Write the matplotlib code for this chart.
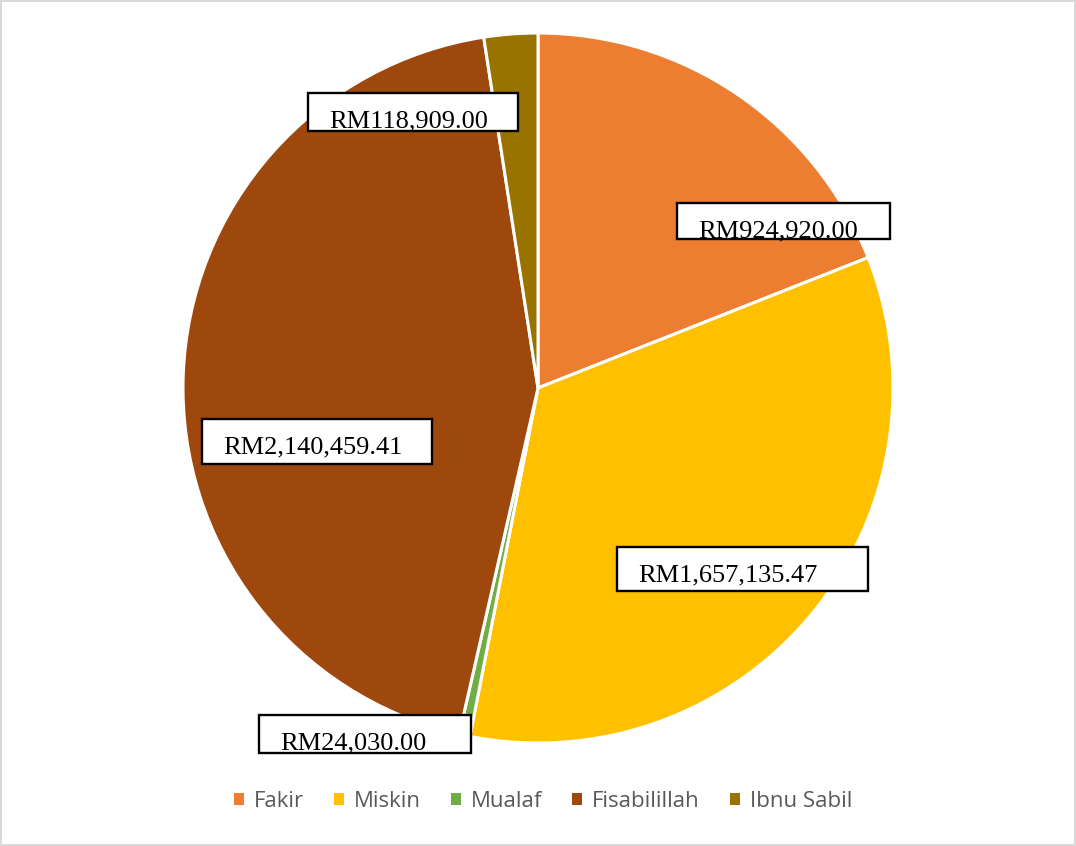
import matplotlib
matplotlib.use("Agg")
import matplotlib.pyplot as plt
from matplotlib.patches import Rectangle, Patch

categories = ["Fakir", "Miskin", "Mualaf", "Fisabilillah", "Ibnu Sabil"]
values = [924920.00, 1657135.47, 24030.00, 2140459.41, 118909.00]
labels = ["RM924,920.00", "RM1,657,135.47", "RM24,030.00", "RM2,140,459.41", "RM118,909.00"]
colors = ["#ED7D31", "#FFC000", "#70AD47", "#9E480E", "#997300"]

# label box layout in pixels (left, top, width, height)
boxes = [(677, 203, 213, 36), (617, 547, 251, 44), (259, 715, 212, 38),
         (202, 419, 230, 45), (308, 93, 210, 38)]

W, H = 1076, 846
fig = plt.figure(figsize=(W / 100, H / 100), dpi=100)
fig.patch.set_facecolor("white")
fig.patch.set_edgecolor("#D9D9D9")
fig.patch.set_linewidth(1.5)

cx, cy, R = 538, 388, 355
ax = fig.add_axes([(cx - R) / W, 1 - (cy + R) / H, 2 * R / W, 2 * R / H])
ax.pie(values, colors=colors, startangle=90, counterclock=False, radius=1,
       wedgeprops=dict(edgecolor="white", linewidth=2.2))
ax.set_xlim(-1, 1)
ax.set_ylim(-1, 1)
ax.set_aspect("auto")
ax.axis("off")

def fx(px):
    return px / W

def fy(py):
    return 1 - py / H

for lab, (l, t, w, h) in zip(labels, boxes):
    fig.patches.append(Rectangle((fx(l), fy(t + h)), w / W, h / H, transform=fig.transFigure,
                                 facecolor="white", edgecolor="black", linewidth=1.7, zorder=3))
    fig.text(fx(l + 21), fy(t + 34.5), lab, ha="left", va="baseline",
             fontsize=19.0, family="Liberation Serif", color="black", zorder=4)

handles = [Patch(facecolor=c, edgecolor="none") for c in colors]
leg = fig.legend(handles, categories, loc="center", bbox_to_anchor=(543 / W, 1 - 801 / H),
                 ncol=5, frameon=False, handlelength=0.45, handleheight=0.45,
                 handletextpad=0.45, columnspacing=1.35,
                 prop=dict(family="Open Sans", size=16))
for t in leg.get_texts():
    t.set_color("#595959")

fig.savefig("out.png", dpi=100, facecolor=fig.get_facecolor(), edgecolor=fig.get_edgecolor())
